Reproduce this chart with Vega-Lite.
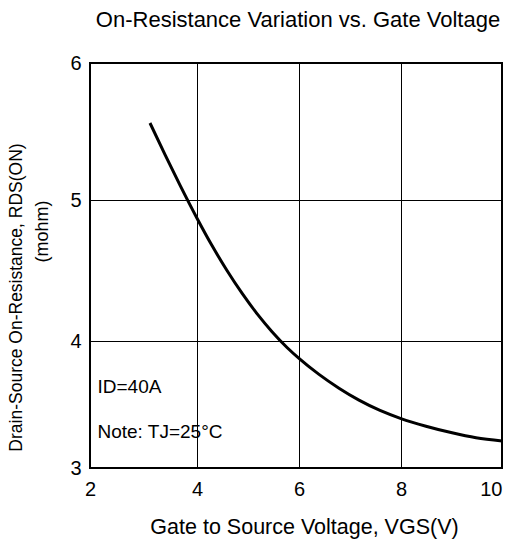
{
  "$schema": "https://vega.github.io/schema/vega-lite/v6.json",
  "autosize": {"type": "none"},
  "width": 412,
  "height": 405,
  "padding": {"left": 90, "top": 63, "right": 3, "bottom": 76},
  "title": {"text": "On-Resistance Variation vs. Gate Voltage", "fontSize": 22, "fontWeight": "normal", "font": "Liberation Sans", "color": "black", "anchor": "middle", "frame": "group", "offset": 21, "dx": 2},
  "config": {"font": "Liberation Sans", "view": {"stroke": "black", "strokeWidth": 2}},
  "layer": [
    {
      "data": {"values": [
        {"vgs": 3.121, "rds": 5.562},
        {"vgs": 3.402, "rds": 5.331},
        {"vgs": 3.682, "rds": 5.109},
        {"vgs": 4.0, "rds": 4.871},
        {"vgs": 4.294, "rds": 4.677},
        {"vgs": 4.588, "rds": 4.5},
        {"vgs": 4.882, "rds": 4.339},
        {"vgs": 5.176, "rds": 4.194},
        {"vgs": 5.471, "rds": 4.066},
        {"vgs": 5.765, "rds": 3.949},
        {"vgs": 6.0, "rds": 3.863},
        {"vgs": 6.392, "rds": 3.737},
        {"vgs": 6.784, "rds": 3.628},
        {"vgs": 7.176, "rds": 3.534},
        {"vgs": 7.588, "rds": 3.453},
        {"vgs": 8.0, "rds": 3.389},
        {"vgs": 8.495, "rds": 3.329},
        {"vgs": 8.99, "rds": 3.279},
        {"vgs": 9.485, "rds": 3.238},
        {"vgs": 10.0, "rds": 3.213}
      ]},
      "mark": {"type": "line", "color": "black", "strokeWidth": 3, "interpolate": "monotone"},
      "encoding": {
        "x": {
          "field": "vgs", "type": "quantitative",
          "scale": {"domain": [2, 4, 6, 8, 10], "range": [0, 107, 209, 311, 412], "nice": false, "zero": false},
          "axis": {
            "values": [2, 4, 6, 8, 10],
            "title": "Gate to Source Voltage, VGS(V)",
            "titleFontSize": 21.5, "titleFontWeight": "normal", "titleColor": "black",
            "titleX": 214, "titleY": 59, "titleBaseline": "middle", "titleAlign": "center",
            "labelFontSize": 20, "labelColor": "black", "labelPadding": 11,
            "labelAlign": {"expr": "datum.value == 10 ? 'right' : 'center'"},
            "ticks": false, "domain": false,
            "grid": true, "gridColor": "black", "gridOpacity": 1, "gridWidth": 1,
            "labelFlush": false, "labelOverlap": false
          }
        },
        "y": {
          "field": "rds", "type": "quantitative",
          "scale": {"domain": [3, 4, 5, 6], "range": [405, 278, 137, 0], "nice": false, "zero": false},
          "axis": {
            "orient": "left",
            "values": [3, 4, 5, 6],
            "title": "(mohm)",
            "titleFontSize": 18, "titleFontWeight": "normal", "titleColor": "black",
            "titleX": -48, "titleY": 168, "titleAngle": -90, "titleBaseline": "middle", "titleAlign": "center",
            "labelFontSize": 20, "labelColor": "black", "labelPadding": 9,
            "ticks": false, "domain": false,
            "grid": true, "gridColor": "black", "gridOpacity": 1, "gridWidth": 1,
            "labelFlush": false, "labelOverlap": false
          }
        }
      }
    },
    {
      "data": {"values": [
        {"vgs": 2.14, "rds": 3.64, "label": "ID=40A"},
        {"vgs": 2.14, "rds": 3.28, "label": "Note: TJ=25°C"}
      ]},
      "mark": {"type": "text", "align": "left", "baseline": "middle", "fontSize": 19, "color": "black"},
      "encoding": {
        "x": {
          "field": "vgs", "type": "quantitative",
          "scale": {"domain": [2, 4, 6, 8, 10], "range": [0, 107, 209, 311, 412], "nice": false, "zero": false}
        },
        "y": {
          "field": "rds", "type": "quantitative",
          "scale": {"domain": [3, 4, 5, 6], "range": [405, 278, 137, 0], "nice": false, "zero": false},
          "axis": {
            "orient": "left",
            "title": "Drain-Source On-Resistance, RDS(ON)",
            "titleFontSize": 17.5, "titleFontWeight": "normal", "titleColor": "black",
            "titleX": -74, "titleY": 234, "titleAngle": -90, "titleBaseline": "middle", "titleAlign": "center",
            "labels": false, "ticks": false, "domain": false, "grid": false
          }
        },
        "text": {"field": "label"}
      }
    }
  ],
  "resolve": {"scale": {"y": "independent"}, "axis": {"y": "independent"}}
}
